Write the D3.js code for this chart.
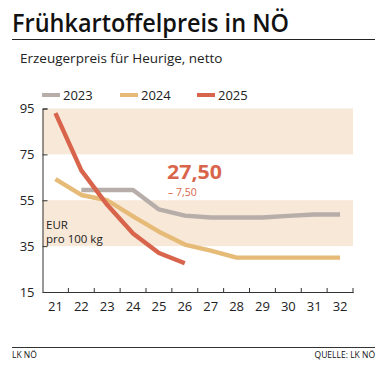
<!DOCTYPE html>
<html><head><meta charset="utf-8">
<script src="https://cdn.jsdelivr.net/npm/d3@7"></script>
<style>
body{margin:0;background:#fff;}
svg{display:block;font-family:"Open Sans",sans-serif;}
</style></head>
<body>
<svg id="c" width="390" height="383"></svg>
<script>
const weeks = ["21","22","23","24","25","26","27","28","29","30","31","32"];
const seriesNames = ["2023","2024","2025"];
const v2023 = [null,59.5,59.5,59.5,51,48.3,47.5,47.5,47.5,48.2,48.8,48.8];
const v2024 = [64.2,57.3,55,48,41.3,35.7,33,30,30,30,30,30];
const v2025 = [93,68,53,40.5,32,27.5,null,null,null,null,null,null];
const yTicks = [15,35,55,75,95];
const bands = [[75,95],[35,55]];
const colors = {"2023":"#b7aea9","2024":"#e6bb78","2025":"#d8654b"};

const svg = d3.select("#c");
const x = d3.scaleBand().domain(weeks).range([42.5,353]);
const y = d3.scaleLinear().domain([15,95]).range([292,108.5]);

// title
svg.append("text").attr("x",12).attr("y",32).attr("font-size",25).attr("font-weight",600)
  .attr("textLength",277).attr("lengthAdjust","spacingAndGlyphs")
  .attr("fill","#111").text("Frühkartoffelpreis in NÖ");
svg.append("line").attr("x1",12).attr("x2",375).attr("y1",39.5).attr("y2",39.5).attr("stroke","#222").attr("stroke-width",1.2);
svg.append("text").attr("x",20).attr("y",63).attr("font-size",13.5).attr("fill","#222")
  .text("Erzeugerpreis für Heurige, netto");

// bands
svg.selectAll("rect.band").data(bands).join("rect").attr("class","band")
  .attr("x",x.range()[0]).attr("width",x.range()[1]-x.range()[0])
  .attr("y",d=>y(d[1])).attr("height",d=>y(d[0])-y(d[1])).attr("fill","#f8e8d8");

// axes
const ya = svg.append("g").attr("transform",`translate(${x.range()[0]},0)`)
  .call(d3.axisLeft(y).tickValues(yTicks).tickSize(-5).tickPadding(8));
ya.select(".domain").attr("stroke","#333");
ya.selectAll(".tick line").attr("stroke","#333");
ya.selectAll("text").attr("font-size",13).attr("fill","#222").attr("font-family","Open Sans");

const xa = svg.append("g").attr("transform",`translate(0,${y(15)})`)
  .call(d3.axisBottom(x).tickSize(0).tickPadding(10));
xa.select(".domain").attr("stroke","#333");
xa.selectAll("text").attr("font-size",13).attr("fill","#222").attr("font-family","Open Sans");
// boundary ticks
const bounds = weeks.slice(1).map(w=>x(w)).concat([x.range()[1]]);
xa.selectAll("line.bt").data(bounds).join("line").attr("class","bt")
  .attr("x1",d=>d).attr("x2",d=>d).attr("y1",-4).attr("y2",1).attr("stroke","#333");

// unit label
svg.append("text").attr("x",46).attr("y",228.5).attr("font-size",11.5).attr("fill","#222").text("EUR");
svg.append("text").attr("x",46).attr("y",242.5).attr("font-size",11.5).attr("fill","#222").text("pro 100 kg");

// lines
const data = {"2023":v2023,"2024":v2024,"2025":v2025};
const line = d3.line().defined(d=>d.v!=null).x(d=>x(d.w)+x.bandwidth()/2).y(d=>y(d.v));
seriesNames.forEach(s=>{
  svg.append("path").datum(weeks.map((w,i)=>({w,v:data[s][i]})))
    .attr("d",line).attr("fill","none").attr("stroke",colors[s]).attr("stroke-width",4.4)
    .attr("stroke-linejoin","round");
});

// legend
const lx = [42,120,197];
seriesNames.forEach((s,i)=>{
  svg.append("rect").attr("x",lx[i]).attr("y",93).attr("width",18).attr("height",4).attr("fill",colors[s]);
  svg.append("text").attr("x",lx[i]+21).attr("y",100).attr("font-size",13).attr("fill","#222").text(s);
});

// annotation
svg.append("text").attr("x",167).attr("y",178.5).attr("font-size",20).attr("font-weight",700)
  .attr("textLength",55).attr("lengthAdjust","spacingAndGlyphs")
  .attr("fill","#d8654b").text("27,50");
svg.append("text").attr("x",168).attr("y",195.5).attr("font-size",10.5)
  .attr("fill","#d8654b").text("– 7,50");

// footer
svg.append("line").attr("x1",12).attr("x2",375).attr("y1",347.5).attr("y2",347.5).attr("stroke","#333").attr("stroke-width",1);
svg.append("text").attr("x",12).attr("y",358).attr("font-size",8.5).attr("fill","#111").text("LK NÖ");
svg.append("text").attr("x",375).attr("y",358).attr("text-anchor","end").attr("font-size",8.5).attr("fill","#111").text("QUELLE: LK NÖ");
</script>
</body></html>
